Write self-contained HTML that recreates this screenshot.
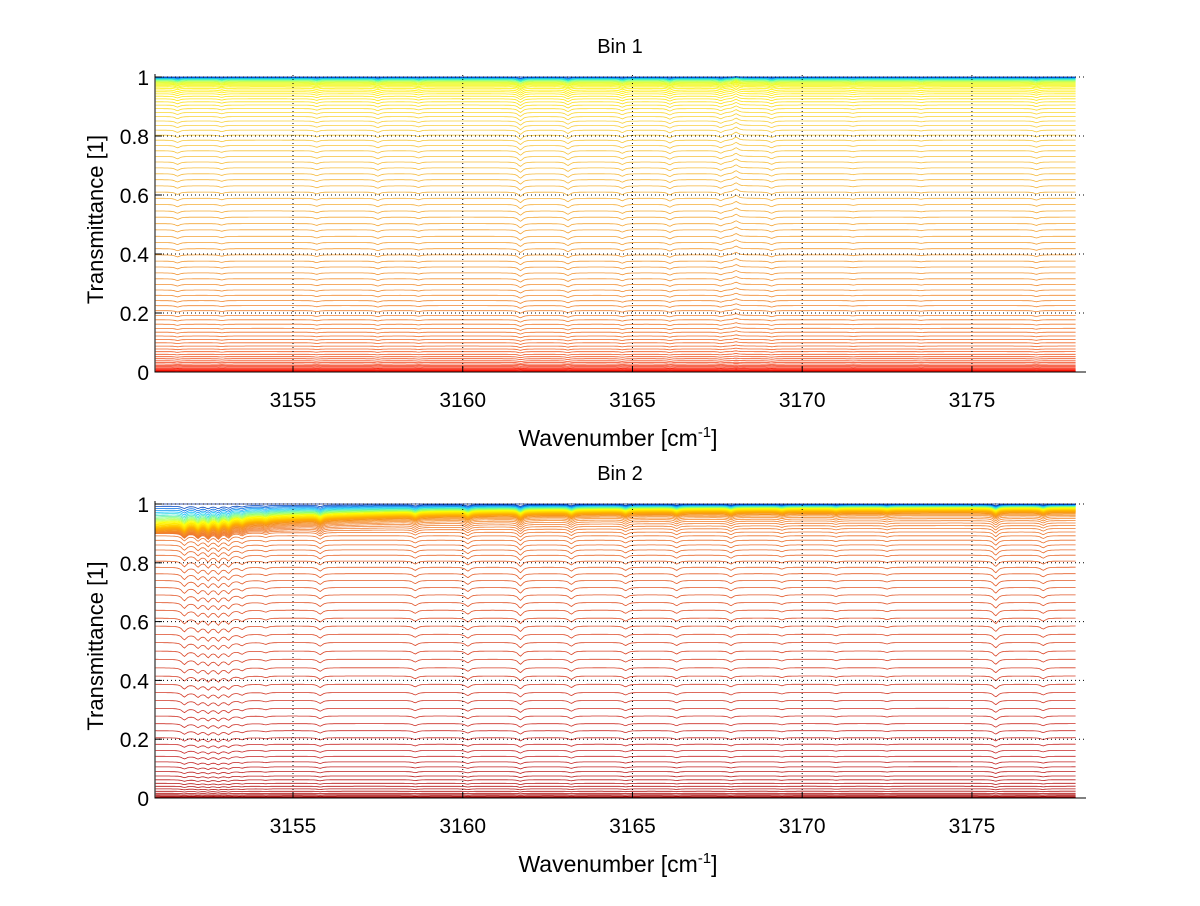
<!DOCTYPE html>
<html><head><meta charset="utf-8"><style>
body{margin:0;background:#fff;}
svg text{font-family:"Liberation Sans",sans-serif;fill:#000;}
</style></head><body>
<svg id="chart" width="1200" height="901" viewBox="0 0 1200 901" xmlns="http://www.w3.org/2000/svg">
<rect width="1200" height="901" fill="#fff"/>
</svg>
<script>
const xTicks = [3155, 3160, 3165, 3170, 3175];
const yTicks = [0, 0.2, 0.4, 0.6, 0.8, 1];
const yTickLabels = ['0', '0.2', '0.4', '0.6', '0.8', '1'];
const xMin = 3150.935, xMax = 3178.36, xDataMax = 3178.1;

const levels1 = [1.0,0.999,0.998,0.996,0.994,0.992,0.99,0.987,0.984,0.981,0.978,0.975,0.971,0.967,0.962,0.956,0.95,0.943,0.935,0.926,0.916,0.905,0.893,0.88,0.866,0.851,0.836,0.82,0.803,0.786,0.768,0.75,0.731,0.712,0.692,0.672,0.652,0.631,0.61,0.589,0.568,0.546,0.525,0.503,0.482,0.46,0.439,0.418,0.397,0.376,0.356,0.336,0.316,0.297,0.278,0.26,0.242,0.225,0.208,0.192,0.177,0.162,0.148,0.135,0.122,0.11,0.099,0.088,0.078,0.069,0.06,0.052,0.045,0.038,0.032,0.027,0.022,0.018,0.014,0.011,0.008,0.006,0.004,0.002,0.001,0];
const levels2 = [1.0,0.999,0.998,0.997,0.996,0.995,0.994,0.993,0.992,0.991,0.99,0.989,0.988,0.987,0.986,0.985,0.984,0.983,0.982,0.981,0.98,0.979,0.978,0.977,0.976,0.975,0.974,0.973,0.971,0.969,0.966,0.962,0.957,0.951,0.944,0.936,0.927,0.917,0.905,0.892,0.877,0.861,0.844,0.826,0.806,0.785,0.763,0.74,0.716,0.691,0.665,0.639,0.612,0.585,0.557,0.529,0.5,0.472,0.443,0.415,0.387,0.359,0.332,0.305,0.279,0.253,0.229,0.205,0.183,0.162,0.142,0.123,0.106,0.09,0.075,0.062,0.05,0.04,0.031,0.023,0.016,0.011,0.007,0.004,0.002,0.001,0];

const lines1 = [3151.6,3152.9,3155.7,3157.5,3158.7,3161.7,3163.1,3164.7,3166.1,3167.6,3168.05,3169.1,3171.5,3173.5,3176.9];
const depths1 = [0.015,0.01,0.012,0.015,0.01,0.028,0.022,0.016,0.018,0.016,-0.02,0.015,0.006,0.006,0.012];
const lines2 = [3151.8,3152.2,3152.5,3152.8,3153.1,3153.5,3154.2,3155.8,3158.6,3160.15,3161.7,3163.2,3164.8,3166.3,3167.9,3169.4,3171.0,3172.5,3175.7,3177.1];
const depths2 = [0.035,0.035,0.04,0.04,0.035,0.02,0.012,0.025,0.02,0.025,0.035,0.025,0.02,0.02,0.02,0.012,0.01,0.01,0.035,0.02];

const cmap1 = [[0,'#0030b0'],[0.025,'#0090ff'],[0.06,'#40ffc0'],[0.1,'#e0ff20'],[0.17,'#fff000'],[0.3,'#f8d040'],[0.5,'#f4a838'],[0.7,'#f08030'],[0.85,'#f05020'],[1,'#ff0000']];
const cmap2 = [[0,'#002090'],[0.02,'#0060e0'],[0.05,'#20d0ff'],[0.09,'#80ff80'],[0.14,'#ffff00'],[0.25,'#ffb000'],[0.4,'#f08030'],[0.6,'#e05028'],[0.8,'#c82828'],[1,'#a00000']];

const panels = [
  {name:'bin-1', title:'Bin 1', titleY:53, y0:372, y1:77, levels:levels1, lines:lines1, depths:depths1, cmap:cmap1, tilt:0},
  {name:'bin-2', title:'Bin 2', titleY:480, y0:798, y1:504, levels:levels2, lines:lines2, depths:depths2, cmap:cmap2, tilt:1}
];
const L = 155, R = 1086;
const svg = document.getElementById('chart');
const NS = 'http://www.w3.org/2000/svg';
function sx(v){ return L + (v - xMin) / (xMax - xMin) * (R - L); }
function mk(tag, attrs, parent){ const e = document.createElementNS(NS, tag); for (const k in attrs) e.setAttribute(k, attrs[k]); (parent||svg).appendChild(e); return e; }
function hex(c){ return [parseInt(c.slice(1,3),16),parseInt(c.slice(3,5),16),parseInt(c.slice(5,7),16)]; }
function cm(stops, t){
  for (let i=1;i<stops.length;i++){ if (t<=stops[i][0]){ const a=hex(stops[i-1][1]), b=hex(stops[i][1]); const f=(t-stops[i-1][0])/(stops[i][0]-stops[i-1][0]); return 'rgb('+a.map((v,k)=>Math.round(v+(b[k]-v)*f)).join(',')+')'; } }
  return stops[stops.length-1][1];
}
panels.forEach(p => {
  const sy = v => p.y0 - v * (p.y0 - p.y1);
  const g = mk('g', {});
  
  
  const sg = mk('g', {fill:'none','stroke-width':'0.8'}, g);
  
  
  const n = p.levels.length;
  for (let i = n - 1; i >= 0; i--) {
    const lev = p.levels[i];
    const d = 1 - lev;
    const dl = Math.max(d, 0.1 * (1 - Math.exp(-d / 0.012)));
    let pts = [];
    for (let x = xMin + 0.02; x <= xDataMax; x += 0.05) {
      const w = p.tilt * Math.exp(-(x - xMin) / 6);
      let base = 1 - (d + w * (dl - d));
      const h = Math.pow(Math.max(base,0), 0.7) * Math.pow(Math.max(1 - base, 0), 0.3);
      let a = 0;
      for (let j = 0; j < p.lines.length; j++) { const u = (x - p.lines[j]) / 0.08; a += p.depths[j] / (1 + u*u); }
      let T = base - a * h;
      pts.push(sx(x).toFixed(1) + ',' + sy(T).toFixed(1));
    }
    const path = mk('polyline', {points: pts.join(' '), stroke: cm(p.cmap, i / (n - 1))}, sg);
    
    
  }
  xTicks.forEach(t => {
    const l = mk('line', {x1:sx(t), x2:sx(t), y1:p.y0, y2:p.y1 - 2, stroke:'#000','stroke-width':1,'stroke-dasharray':'1,3'}, g);
    
    
    const tk = mk('line', {x1:sx(t), x2:sx(t), y1:p.y0, y2:p.y0 - 6, stroke:'#000'}, g);
    
    
    const tx = mk('text', {x:sx(t), y:p.y0 + 35, 'text-anchor':'middle','font-size':21}, g);
    tx.textContent = t;
    
    
  });
  yTicks.forEach((t, k) => {
    if (t > 0) {
      const l = mk('line', {x1:L, x2:R, y1:sy(t), y2:sy(t), stroke:'#000','stroke-width':1,'stroke-dasharray':'1,3'}, g);
      
      
    }
    const tk = mk('line', {x1:L, x2:L + 7, y1:sy(t), y2:sy(t), stroke:'#000'}, g);
    
    
    const tx = mk('text', {x:L - 6, y:sy(t) + 8, 'text-anchor':'end','font-size':21}, g);
    tx.textContent = yTickLabels[k];
    
    
  });
  const ax = mk('path', {d:'M'+L+','+(p.y1-3)+'V'+p.y0+'H'+R, stroke:'#000', fill:'none'}, g);
  
  
  const ti = mk('text', {x:620, y:p.titleY, 'text-anchor':'middle','font-size':20}, g);
  ti.textContent = p.title;
  
  
  const xl = mk('text', {x:618, y:p.y0 + 74, 'text-anchor':'middle','font-size':23}, g);
  xl.innerHTML = 'Wavenumber [cm<tspan dy="-9" font-size="15">-1</tspan><tspan dy="9">]</tspan>';
  
  
  const cy = (p.y0 + p.y1) / 2 - 5;
  const yl = mk('text', {x:103, y:cy, 'text-anchor':'middle','font-size':22, transform:'rotate(-90 103 '+cy+')'}, g);
  yl.textContent = 'Transmittance [1]';
  
  
});
</script>
</body></html>
